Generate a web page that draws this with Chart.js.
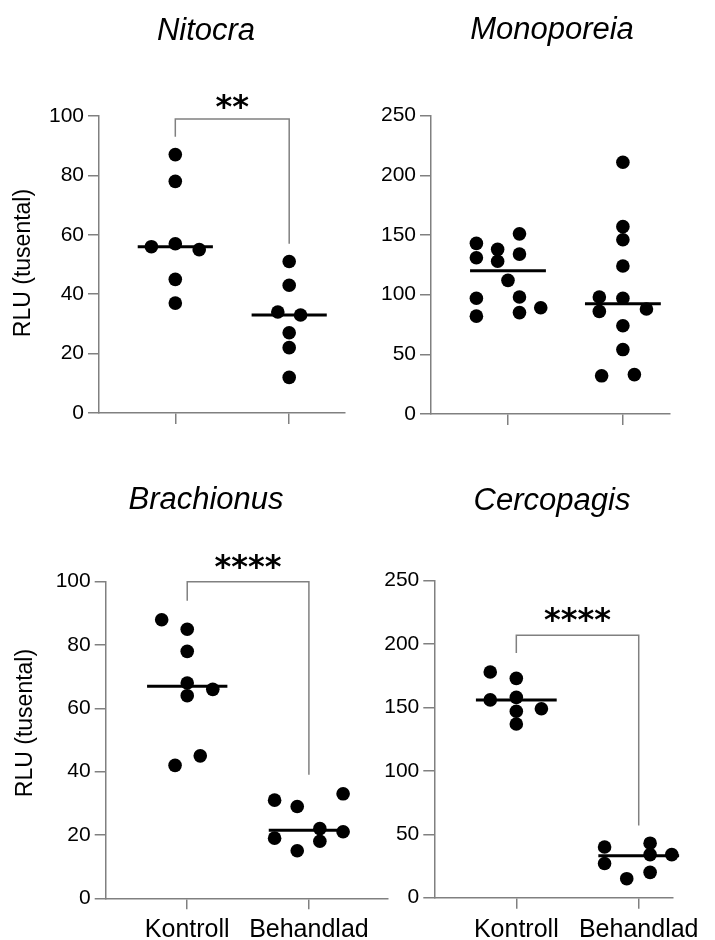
<!DOCTYPE html>
<html>
<head>
<meta charset="utf-8">
<script src="https://cdn.jsdelivr.net/npm/chart.js@4.4.1/dist/chart.umd.min.js"></script>
<style>
  html, body { margin: 0; padding: 0; background: #ffffff; }
  body { width: 715px; height: 940px; position: relative; overflow: hidden; }
  canvas { position: absolute; }
</style>
</head>
<body>
<canvas id="c1"></canvas>
<canvas id="c2"></canvas>
<canvas id="c3"></canvas>
<canvas id="c4"></canvas>
<script>
// ---------- DATA ----------
const categories = ['Kontroll', 'Behandlad'];
const yTitle = 'RLU (tusental)';
const yTicks100 = [0, 20, 40, 60, 80, 100];
const yTicks250 = [0, 50, 100, 150, 200, 250];

// Nitocra
const nitocraTitle = 'Nitocra';
const nitocraKontroll = [87, 78, 57, 56, 55, 45, 37];
const nitocraKontrollJitter = [0, 0, 0, -0.21, 0.21, 0, 0];
const nitocraBehandlad = [51, 43, 34, 33, 27, 22, 12];
const nitocraBehandladJitter = [0, 0, -0.1, 0.1, 0, 0, 0];
const nitocraMedians = [56, 33];
const nitocraBracket = [99, 93, 57];
const nitocraSig = '**';

// Monoporeia
const monoporeiaTitle = 'Monoporeia';
const monoporeiaKontroll = [143, 131, 97, 82, 138, 128, 112, 151, 134, 98, 85, 89];
const monoporeiaKontrollJitter = [-0.275, -0.275, -0.275, -0.275, -0.09, -0.09, 0, 0.1, 0.1, 0.1, 0.1, 0.285];
const monoporeiaBehandlad = [211, 157, 146, 124, 98, 86, 97, 88, 74, 54, 32, 33];
const monoporeiaBehandladJitter = [0, 0, 0, 0, -0.205, -0.205, 0, 0.205, 0, 0, -0.185, 0.1];
const monoporeiaMedians = [120, 92.5];

// Brachionus
const brachionusTitle = 'Brachionus';
const brachionusKontroll = [88, 85, 78, 68, 64, 66, 42, 45];
const brachionusKontrollJitter = [-0.21, 0, 0, 0, 0, 0.21, -0.1, 0.107];
const brachionusBehandlad = [31, 29, 33, 19, 15, 22, 18, 21];
const brachionusBehandladJitter = [-0.282, -0.096, 0.281, -0.282, -0.096, 0.09, 0.09, 0.281];
const brachionusMedians = [67, 21.5];
const brachionusBracket = [100, 94, 39];
const brachionusSig = '****';

// Cercopagis
const cercopagisTitle = 'Cercopagis';
const cercopagisKontroll = [178, 173, 156, 158, 147, 137, 149];
const cercopagisKontrollJitter = [-0.213, 0, -0.213, 0, 0, 0, 0.205];
const cercopagisBehandlad = [40, 27, 15, 43, 34, 20, 34];
const cercopagisBehandladJitter = [-0.279, -0.279, -0.098, 0.093, 0.093, 0.093, 0.27];
const cercopagisMedians = [156, 33];
const cercopagisBracket = [207, 193, 57];
const cercopagisSig = '****';

// ---------- STYLE / LAYOUT ----------
const FONT = '"Liberation Sans", Arial, sans-serif';
const AXIS = '#808080';
const INK = '#000000';

const panels = [
  { id: 'c1', canvas: { l: 0, t: 0, w: 357, h: 470 }, area: { l: 99, t: 116, r: 345, b: 413 },
    xMax: 2.49, yMax: 100, yTicks: yTicks100, showX: false,
    title: nitocraTitle, titlePos: [206, 40], yTitlePos: [24, 263],
    groups: [[nitocraKontroll, nitocraKontrollJitter], [nitocraBehandlad, nitocraBehandladJitter]],
    medians: nitocraMedians, bracket: nitocraBracket, sig: nitocraSig, sigLift: 3 },
  { id: 'c2', canvas: { l: 357, t: 0, w: 358, h: 470 }, area: { l: 431, t: 115.7, r: 670, b: 414 },
    xMax: 2.41, yMax: 250, yTicks: yTicks250, showX: false,
    title: monoporeiaTitle, titlePos: [552, 39], yTitlePos: null,
    groups: [[monoporeiaKontroll, monoporeiaKontrollJitter], [monoporeiaBehandlad, monoporeiaBehandladJitter]],
    medians: monoporeiaMedians, bracket: null, sig: null, sigLift: 0 },
  { id: 'c3', canvas: { l: 0, t: 470, w: 400, h: 470 }, area: { l: 105.7, t: 581.7, r: 388, b: 898.3 },
    xMax: 2.65, yMax: 100, yTicks: yTicks100, showX: true,
    title: brachionusTitle, titlePos: [206, 509], yTitlePos: [26, 723],
    groups: [[brachionusKontroll, brachionusKontrollJitter], [brachionusBehandlad, brachionusBehandladJitter]],
    medians: brachionusMedians, bracket: brachionusBracket, sig: brachionusSig, sigLift: 6 },
  { id: 'c4', canvas: { l: 380, t: 470, w: 335, h: 470 }, area: { l: 434.3, t: 580.7, r: 673, b: 897.7 },
    xMax: 2.28, yMax: 250, yTicks: yTicks250, showX: true,
    title: cercopagisTitle, titlePos: [552, 510], yTitlePos: null,
    groups: [[cercopagisKontroll, cercopagisKontrollJitter], [cercopagisBehandlad, cercopagisBehandladJitter]],
    medians: cercopagisMedians, bracket: cercopagisBracket, sig: cercopagisSig, sigLift: 6 }
];

const MEDIAN_HALF = 0.33;

const annotate = {
  id: 'annotate',
  afterDraw(chart, args, opts) {
    const p = opts.panel;
    const ctx = chart.ctx;
    const ox = p.canvas.l, oy = p.canvas.t;
    ctx.save();
    ctx.fillStyle = INK;
    ctx.font = 'italic 31px ' + FONT;
    ctx.textAlign = 'center';
    ctx.textBaseline = 'alphabetic';
    ctx.fillText(p.title, p.titlePos[0] - ox, p.titlePos[1] - oy);
    if (p.yTitlePos) {
      ctx.save();
      ctx.translate(p.yTitlePos[0] - ox, p.yTitlePos[1] - oy);
      ctx.rotate(-Math.PI / 2);
      ctx.font = '23px ' + FONT;
      ctx.textAlign = 'center';
      ctx.textBaseline = 'middle';
      ctx.fillText(yTitle, 0, 0);
      ctx.restore();
    }
    if (p.bracket) {
      const xs = chart.scales.x, ys = chart.scales.y;
      const x1 = xs.getPixelForValue(1), x2 = xs.getPixelForValue(2);
      const yt = ys.getPixelForValue(p.bracket[0]);
      const y1 = ys.getPixelForValue(p.bracket[1]);
      const y2 = ys.getPixelForValue(p.bracket[2]);
      ctx.strokeStyle = AXIS;
      ctx.lineWidth = 1.5;
      ctx.beginPath();
      ctx.moveTo(x1, y1);
      ctx.lineTo(x1, yt);
      ctx.lineTo(x2, yt);
      ctx.lineTo(x2, y2);
      ctx.stroke();
      ctx.fillStyle = INK;
      ctx.font = 'bold 32px "DejaVu Sans", sans-serif';
      ctx.textAlign = 'center';
      ctx.textBaseline = 'alphabetic';
      ctx.fillText(p.sig, (x1 + x2) / 2, yt + 1 - p.sigLift);
    }
    ctx.restore();
  }
};

panels.forEach(p => {
  const cv = document.getElementById(p.id);
  cv.width = p.canvas.w; cv.height = p.canvas.h;
  cv.style.left = p.canvas.l + 'px'; cv.style.top = p.canvas.t + 'px';
  cv.style.width = p.canvas.w + 'px'; cv.style.height = p.canvas.h + 'px';

  const yW = p.area.l - p.canvas.l;
  const padTop = p.area.t - p.canvas.t;
  const padRight = p.canvas.l + p.canvas.w - p.area.r;
  const xH = p.canvas.t + p.canvas.h - p.area.b;

  const datasets = [];
  p.medians.forEach((m, i) => {
    datasets.push({
      type: 'line',
      data: [{ x: i + 1 - MEDIAN_HALF, y: m }, { x: i + 1 + MEDIAN_HALF, y: m }],
      borderColor: INK, borderWidth: 3, pointRadius: 0, fill: false, tension: 0, clip: false
    });
  });
  p.groups.forEach((g, i) => {
    datasets.push({
      type: 'scatter',
      label: categories[i],
      data: g[0].map((v, k) => ({ x: i + 1 + g[1][k], y: v })),
      pointRadius: 6.8, pointBackgroundColor: INK, pointBorderWidth: 0, borderColor: INK,
      clip: false
    });
  });

  new Chart(cv, {
    type: 'scatter',
    data: { datasets },
    plugins: [annotate],
    options: {
      responsive: false, animation: false, devicePixelRatio: 1, events: [],
      layout: { padding: { top: padTop, right: padRight, left: 0, bottom: 0 } },
      plugins: { legend: { display: false }, tooltip: { enabled: false }, title: { display: false },
                 annotate: { panel: p } },
      scales: {
        x: {
          type: 'linear', min: 0.33, max: p.xMax,
          afterBuildTicks: s => { s.ticks = [{ value: 1 }, { value: 2 }]; },
          afterFit: s => { s.height = xH; },
          ticks: {
            callback: v => p.showX ? categories[Math.round(v) - 1] : '',
            font: { size: 25, family: FONT }, color: INK, padding: 6,
            maxRotation: 0, autoSkip: false
          },
          grid: { drawOnChartArea: false, drawTicks: true, tickLength: 11, color: AXIS, lineWidth: 1.5 },
          border: { color: AXIS, width: 1.5 }
        },
        y: {
          type: 'linear', min: 0, max: p.yMax,
          afterBuildTicks: s => { s.ticks = p.yTicks.map(v => ({ value: v })); },
          afterFit: s => { s.width = yW; },
          ticks: { font: { size: 21, family: FONT }, color: INK, padding: 4 },
          grid: { drawOnChartArea: false, drawTicks: true, tickLength: 11, color: AXIS, lineWidth: 1.5 },
          border: { color: AXIS, width: 1.5 }
        }
      }
    }
  });
});
</script>
</body>
</html>
